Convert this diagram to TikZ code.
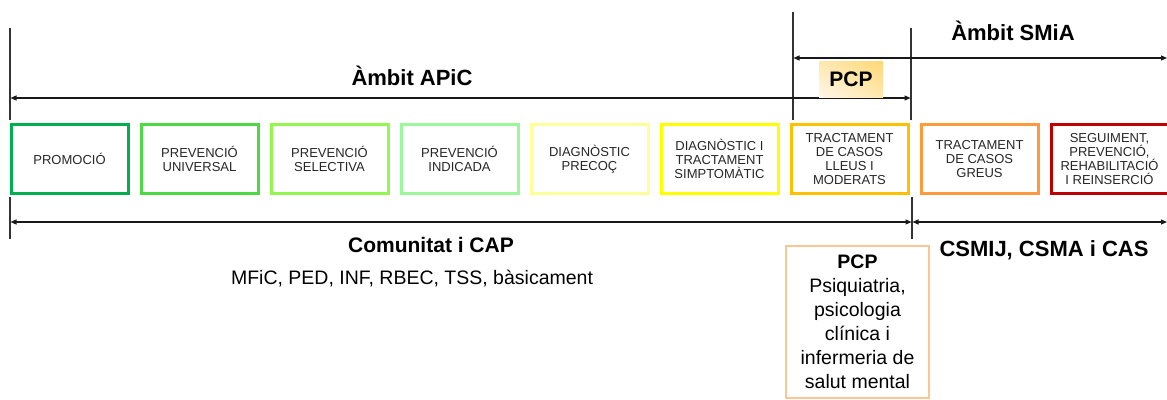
\documentclass[tikz,border=0pt]{standalone}
\usepackage{fontspec}
\setmainfont{Liberation Sans}
\usetikzlibrary{arrows.meta,shadings}
\definecolor{cA}{HTML}{00B050}
\definecolor{cB}{HTML}{4CD944}
\definecolor{cC}{HTML}{92F850}
\definecolor{cD}{HTML}{9CF89C}
\definecolor{cE}{HTML}{FFFF99}
\definecolor{cF}{HTML}{FFFF00}
\definecolor{cG}{HTML}{FFC000}
\definecolor{cH}{HTML}{FF9A3C}
\definecolor{cI}{HTML}{C00000}
\definecolor{txt}{HTML}{262626}
\definecolor{pcpedge}{HTML}{FBC594}
\definecolor{pcpdark}{HTML}{FFD874}
\definecolor{pcpmid}{HTML}{FFE8B0}
\definecolor{pcplight}{HTML}{FFF6E8}
\definecolor{vline}{HTML}{333333}
\begin{document}
\begin{tikzpicture}[x=1pt,y=-1pt,
  stage/.style={draw=#1, line width=3pt, minimum width=117pt, minimum height=69pt,
    inner sep=0pt, align=center, text=txt, font=\fontsize{13}{14}\selectfont},
  tick/.style={draw=vline, line width=1.1pt},
  span/.style={draw=black!90, line width=1.2pt, {Triangle[length=6pt,width=5pt]}-{Triangle[length=6pt,width=5pt]}},
  title/.style={font=\bfseries\fontsize{22}{26}\selectfont, anchor=base},
  plain/.style={font=\fontsize{19.5}{24}\selectfont, anchor=base}
]
\useasboundingbox (0,0) rectangle (1167,399);

% stage boxes
\node[stage=cA] (s1) at (69.5,159) {PROMOCIÓ};
\node[stage=cB] (s2) at (199.5,159) {PREVENCIÓ\\UNIVERSAL};
\node[stage=cC] (s3) at (329.5,159) {PREVENCIÓ\\SELECTIVA};
\node[stage=cD] (s4) at (459.5,159) {PREVENCIÓ\\INDICADA};
\node[stage=cE] (s5) at (589.5,159) {DIAGNÒSTIC\\PRECOÇ};
\node[stage=cF] (s6) at (719.5,159) {DIAGNÒSTIC I\\TRACTAMENT\\SIMPTOMÀTIC};
\node[stage=cG] (s7) at (849.5,159) {TRACTAMENT\\DE CASOS\\LLEUS I\\MODERATS};
\node[stage=cH] (s8) at (979.5,159) {TRACTAMENT\\DE CASOS\\GREUS};
\node[stage=cI] (s9) at (1109.5,159) {SEGUIMENT,\\PREVENCIÓ,\\REHABILITACIÓ\\I REINSERCIÓ};

% vertical ticks
\coordinate (l1t) at (10,28);   \coordinate (l1b) at (10,120);
\coordinate (p1t) at (793,12);  \coordinate (p1b) at (793,120);
\coordinate (m1t) at (911,28);  \coordinate (m1b) at (911,120);
\coordinate (l2t) at (10,197);  \coordinate (l2b) at (10,239);
\coordinate (m2t) at (912,197); \coordinate (m2b) at (912,239);
\draw[tick] (l1t) -- (l1b);
\draw[tick] (p1t) -- (p1b);
\draw[tick] (m1t) -- (m1b);
\draw[tick] (l2t) -- (l2b);
\draw[tick] (m2t) -- (m2b);

% span arrows
\coordinate (apicL) at (10.5,98);  \coordinate (apicR) at (910.5,98);
\coordinate (smiaL) at (793.5,58); \coordinate (smiaR) at (1167,58);
\coordinate (capL) at (10.5,222);  \coordinate (capR) at (911.5,222);
\coordinate (csmL) at (912.5,222); \coordinate (csmR) at (1167,222);
\draw[span] (apicL) -- (apicR);
\draw[span] (smiaL) -- (smiaR);
\draw[span] (capL) -- (capR);
\draw[span] (csmL) -- (csmR);

% titles
\node[title] (tapic) at (412,85) {Àmbit APiC};
\node[title] (tsmia) at (1013,40) {Àmbit SMiA};
\node[title, font=\bfseries\fontsize{21}{25}\selectfont] (tcap) at (431,252) {Comunitat i CAP};
\node[plain] (tprof) at (412,284) {MFiC, PED, INF, RBEC, TSS, bàsicament};
\node[title] (tcsm) at (1044,256) {CSMIJ, CSMA i CAS};

% PCP label
\node[minimum width=64pt, minimum height=36pt, inner sep=0pt,
  upper left=pcpmid, upper right=pcpdark, lower left=pcplight, lower right=pcpmid,
  font=\bfseries\fontsize{21}{25}\selectfont] (pcpl) at (851,79) {PCP};

% PCP box
\node[draw=pcpedge, line width=1.5pt, minimum width=143pt, minimum height=152pt, inner sep=0pt] (pcpbox) at (857.5,322) {};
\node[anchor=north, inner sep=0pt, align=center, font=\fontsize{19.5}{24}\selectfont] (pcptxt) at (857.5,255)
  {{\bfseries PCP}\\Psiquiatria,\\psicologia\\clínica i\\infermeria de\\salut mental};
\end{tikzpicture}
\end{document}
